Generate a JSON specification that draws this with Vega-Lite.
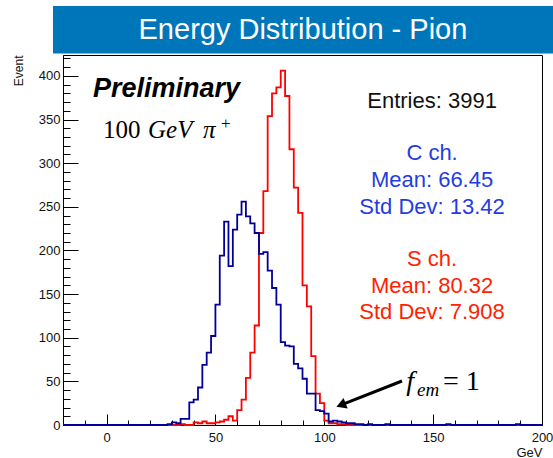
{
  "$schema": "https://vega.github.io/schema/vega-lite/v6.json",
  "width": 479,
  "height": 370,
  "autosize": {"type": "none"},
  "padding": {"left": 63, "top": 55, "right": 11, "bottom": 33},
  "background": "white",
  "config": {
    "view": {"stroke": "black", "strokeWidth": 1},
    "axis": {
      "labelFont": "Liberation Sans",
      "titleFont": "Liberation Sans",
      "labelColor": "#111111",
      "titleColor": "#111111",
      "domainColor": "black",
      "tickColor": "black",
      "grid": false
    }
  },
  "datasets": {
    "hist": [
      {"E": -20, "C": 0, "S": 0}, {"E": -18, "C": 0, "S": 0}, {"E": -16, "C": 0, "S": 0}, {"E": -14, "C": 0, "S": 0},
      {"E": -12, "C": 0, "S": 0}, {"E": -10, "C": 0, "S": 0}, {"E": -8, "C": 0, "S": 0}, {"E": -6, "C": 0, "S": 0},
      {"E": -4, "C": 0, "S": 0}, {"E": -2, "C": 0, "S": 0}, {"E": 0, "C": 0, "S": 0}, {"E": 2, "C": 0, "S": 0},
      {"E": 4, "C": 0, "S": 0}, {"E": 6, "C": 0, "S": 0}, {"E": 8, "C": 0, "S": 0}, {"E": 10, "C": 0, "S": 0},
      {"E": 12, "C": 0, "S": 0}, {"E": 14, "C": 0, "S": 0}, {"E": 16, "C": 0, "S": 0}, {"E": 18, "C": 0, "S": 0},
      {"E": 20, "C": 0, "S": 0}, {"E": 22, "C": 0, "S": 0}, {"E": 24, "C": 0, "S": 0}, {"E": 26, "C": 0, "S": 0},
      {"E": 28, "C": 1, "S": 0}, {"E": 30, "C": 3, "S": 0}, {"E": 32, "C": 2, "S": 0}, {"E": 34, "C": 7, "S": 1},
      {"E": 36, "C": 7, "S": 0}, {"E": 38, "C": 26, "S": 0}, {"E": 40, "C": 29, "S": 3}, {"E": 42, "C": 43, "S": 2},
      {"E": 44, "C": 69, "S": 4}, {"E": 46, "C": 83, "S": 2}, {"E": 48, "C": 102, "S": 2}, {"E": 50, "C": 138, "S": 3},
      {"E": 52, "C": 194, "S": 4}, {"E": 54, "C": 233, "S": 6}, {"E": 56, "C": 182, "S": 10}, {"E": 58, "C": 224, "S": 5},
      {"E": 60, "C": 241, "S": 17}, {"E": 62, "C": 256, "S": 29}, {"E": 64, "C": 239, "S": 54}, {"E": 66, "C": 231, "S": 83},
      {"E": 68, "C": 220, "S": 114}, {"E": 70, "C": 196, "S": 220}, {"E": 72, "C": 198, "S": 268}, {"E": 74, "C": 177, "S": 354},
      {"E": 76, "C": 157, "S": 380}, {"E": 78, "C": 138, "S": 387}, {"E": 80, "C": 95, "S": 406}, {"E": 82, "C": 91, "S": 377},
      {"E": 84, "C": 90, "S": 316}, {"E": 86, "C": 70, "S": 272}, {"E": 88, "C": 65, "S": 243}, {"E": 90, "C": 53, "S": 160},
      {"E": 92, "C": 36, "S": 136}, {"E": 94, "C": 36, "S": 79}, {"E": 96, "C": 17, "S": 36}, {"E": 98, "C": 16, "S": 25},
      {"E": 100, "C": 13, "S": 5}, {"E": 102, "C": 4, "S": 2}, {"E": 104, "C": 5, "S": 2}, {"E": 106, "C": 4, "S": 1},
      {"E": 108, "C": 3, "S": 1}, {"E": 110, "C": 2, "S": 0}, {"E": 112, "C": 2, "S": 0}, {"E": 114, "C": 1, "S": 0},
      {"E": 116, "C": 1, "S": 0}, {"E": 118, "C": 0, "S": 0}, {"E": 120, "C": 1, "S": 0}, {"E": 122, "C": 0, "S": 0},
      {"E": 124, "C": 0, "S": 0}, {"E": 126, "C": 0, "S": 0}, {"E": 128, "C": 1, "S": 0}, {"E": 130, "C": 0, "S": 0},
      {"E": 132, "C": 0, "S": 0}, {"E": 134, "C": 0, "S": 0}, {"E": 136, "C": 0, "S": 0}, {"E": 138, "C": 0, "S": 0},
      {"E": 140, "C": 0, "S": 0}, {"E": 142, "C": 0, "S": 0}, {"E": 144, "C": 0, "S": 0}, {"E": 146, "C": 0, "S": 0},
      {"E": 148, "C": 0, "S": 0}, {"E": 150, "C": 0, "S": 0}, {"E": 152, "C": 0, "S": 0}, {"E": 154, "C": 0, "S": 0},
      {"E": 156, "C": 1, "S": 0}, {"E": 158, "C": 0, "S": 0}, {"E": 160, "C": 0, "S": 0}, {"E": 162, "C": 0, "S": 0},
      {"E": 164, "C": 0, "S": 0}, {"E": 166, "C": 0, "S": 0}, {"E": 168, "C": 0, "S": 0}, {"E": 170, "C": 0, "S": 0},
      {"E": 172, "C": 0, "S": 0}, {"E": 174, "C": 0, "S": 0}, {"E": 176, "C": 0, "S": 0}, {"E": 178, "C": 0, "S": 0},
      {"E": 180, "C": 0, "S": 0}, {"E": 182, "C": 0, "S": 0}, {"E": 184, "C": 0, "S": 0}, {"E": 186, "C": 0, "S": 0},
      {"E": 188, "C": 1, "S": 0}, {"E": 190, "C": 0, "S": 0}, {"E": 192, "C": 0, "S": 0}, {"E": 194, "C": 0, "S": 0},
      {"E": 196, "C": 0, "S": 0}, {"E": 198, "C": 0, "S": 0}, {"E": 200, "C": 0, "S": 0}
    ]
  },
  "resolve": {"axis": {"x": "independent", "y": "independent"}},
  "layer": [
    {
      "data": {"name": "hist"},
      "mark": {"type": "line", "interpolate": "step-after", "color": "#ff0000", "strokeWidth": 1.8},
      "encoding": {
        "x": {
          "field": "E", "type": "quantitative",
          "scale": {"domain": [-20, 200], "nice": false, "zero": false},
          "axis": {
            "orient": "bottom", "values": [0, 50, 100, 150, 200], "tickSize": -11, "tickWidth": 1,
            "labelPadding": 17, "labelFontSize": 13, "labelFlush": false, "labelOverlap": false,
            "title": "GeV", "titleFontSize": 13, "titleFontWeight": "normal", "titleAnchor": "end",
            "titleAlign": "right", "titleX": 479, "titleY": 27, "titleBaseline": "middle"
          }
        },
        "y": {
          "field": "S", "type": "quantitative",
          "scale": {"domain": [0, 424], "nice": false},
          "axis": {
            "orient": "left", "values": [0, 50, 100, 150, 200, 250, 300, 350, 400], "tickSize": -15, "tickWidth": 1,
            "labelPadding": 18, "labelFontSize": 13, "labelOverlap": false,
            "title": "Event", "titleFontSize": 12, "titleFontWeight": "normal", "titleAngle": -90,
            "titleAnchor": "end", "titleAlign": "right", "titleX": -45, "titleY": 0, "titleBaseline": "middle"
          }
        }
      }
    },
    {
      "data": {"name": "hist"},
      "mark": {"type": "line", "interpolate": "step-after", "color": "#000099", "strokeWidth": 1.8},
      "encoding": {
        "x": {
          "field": "E", "type": "quantitative",
          "axis": {
            "orient": "bottom", "values": [-10, 10, 20, 30, 40, 60, 70, 80, 90, 110, 120, 130, 140, 160, 170, 180, 190],
            "tickSize": -5, "labels": false, "domain": false, "title": null
          }
        },
        "y": {
          "field": "C", "type": "quantitative",
          "axis": {
            "orient": "left",
            "values": [10, 20, 30, 40, 60, 70, 80, 90, 110, 120, 130, 140, 160, 170, 180, 190, 210, 220, 230, 240, 260, 270, 280, 290, 310, 320, 330, 340, 360, 370, 380, 390, 410, 420],
            "tickSize": -7, "labels": false, "domain": false, "title": null
          }
        }
      }
    },
    {
      "data": {"values": [{"x": -24.6, "x2": 205.1, "y": 480.2, "y2": 425.8}]},
      "mark": {"type": "rect", "color": "#0076ba"},
      "encoding": {
        "x": {"field": "x", "type": "quantitative", "axis": null},
        "x2": {"field": "x2"},
        "y": {"field": "y", "type": "quantitative", "axis": null},
        "y2": {"field": "y2"}
      }
    },
    {
      "data": {"values": [{"x": 90.2, "y": 453.2, "t": "Energy Distribution - Pion"}]},
      "mark": {"type": "text", "font": "Liberation Sans", "fontSize": 29, "color": "white", "align": "center", "baseline": "middle"},
      "encoding": {
        "x": {"field": "x", "type": "quantitative", "axis": null},
        "y": {"field": "y", "type": "quantitative", "axis": null},
        "text": {"field": "t"}
      }
    },
    {
      "data": {"values": [{"x": 149.5, "y": 371.3, "t": "Entries: 3991"}]},
      "mark": {"type": "text", "font": "Liberation Sans", "fontSize": 22, "color": "#111111", "align": "center", "baseline": "middle"},
      "encoding": {
        "x": {"field": "x", "type": "quantitative", "axis": null},
        "y": {"field": "y", "type": "quantitative", "axis": null},
        "text": {"field": "t"}
      }
    },
    {
      "data": {"values": [
        {"x": 149.5, "y": 311.7, "t": "C ch."},
        {"x": 149.5, "y": 280.8, "t": "Mean: 66.45"},
        {"x": 149.5, "y": 249.8, "t": "Std Dev: 13.42"}
      ]},
      "mark": {"type": "text", "font": "Liberation Sans", "fontSize": 22, "color": "#1f3de0", "align": "center", "baseline": "middle"},
      "encoding": {
        "x": {"field": "x", "type": "quantitative", "axis": null},
        "y": {"field": "y", "type": "quantitative", "axis": null},
        "text": {"field": "t"}
      }
    },
    {
      "data": {"values": [
        {"x": 149.5, "y": 190.2, "t": "S ch."},
        {"x": 149.5, "y": 159.3, "t": "Mean: 80.32"},
        {"x": 149.5, "y": 129.5, "t": "Std Dev: 7.908"}
      ]},
      "mark": {"type": "text", "font": "Liberation Sans", "fontSize": 22, "color": "#ff2200", "align": "center", "baseline": "middle"},
      "encoding": {
        "x": {"field": "x", "type": "quantitative", "axis": null},
        "y": {"field": "y", "type": "quantitative", "axis": null},
        "text": {"field": "t"}
      }
    },
    {
      "data": {"values": [{"x": -6.2, "y": 375.5, "t": "Preliminary"}]},
      "mark": {"type": "text", "font": "Liberation Sans", "fontSize": 27, "fontWeight": "bold", "fontStyle": "italic", "color": "black", "align": "left", "baseline": "alphabetic"},
      "encoding": {
        "x": {"field": "x", "type": "quantitative", "axis": null},
        "y": {"field": "y", "type": "quantitative", "axis": null},
        "text": {"field": "t"}
      }
    },
    {
      "data": {"values": [{"x": -1.63, "y": 328.9, "t": "100"}]},
      "mark": {"type": "text", "font": "Liberation Serif", "fontSize": 25, "color": "black", "align": "left", "baseline": "alphabetic"},
      "encoding": {
        "x": {"field": "x", "type": "quantitative", "axis": null},
        "y": {"field": "y", "type": "quantitative", "axis": null},
        "text": {"field": "t"}
      }
    },
    {
      "data": {"values": [{"x": 19.05, "y": 328.9, "t": "GeV"}, {"x": 44.3, "y": 328.9, "t": "π"}]},
      "mark": {"type": "text", "font": "Liberation Serif", "fontSize": 25, "fontStyle": "italic", "color": "black", "align": "left", "baseline": "alphabetic"},
      "encoding": {
        "x": {"field": "x", "type": "quantitative", "axis": null},
        "y": {"field": "y", "type": "quantitative", "axis": null},
        "text": {"field": "t"}
      }
    },
    {
      "data": {"values": [{"x": 52.6, "y": 339.2, "t": "+"}]},
      "mark": {"type": "text", "font": "Liberation Serif", "fontSize": 17, "color": "black", "align": "left", "baseline": "alphabetic"},
      "encoding": {
        "x": {"field": "x", "type": "quantitative", "axis": null},
        "y": {"field": "y", "type": "quantitative", "axis": null},
        "text": {"field": "t"}
      }
    },
    {
      "data": {"values": [{"x": 137.6, "y": 40.1, "t": "f"}]},
      "mark": {"type": "text", "font": "Liberation Serif", "fontSize": 28, "fontStyle": "italic", "color": "black", "align": "left", "baseline": "alphabetic"},
      "encoding": {
        "x": {"field": "x", "type": "quantitative", "axis": null},
        "y": {"field": "y", "type": "quantitative", "axis": null},
        "text": {"field": "t"}
      }
    },
    {
      "data": {"values": [{"x": 142.6, "y": 33.2, "t": "em"}]},
      "mark": {"type": "text", "font": "Liberation Serif", "fontSize": 19, "fontStyle": "italic", "color": "black", "align": "left", "baseline": "alphabetic"},
      "encoding": {
        "x": {"field": "x", "type": "quantitative", "axis": null},
        "y": {"field": "y", "type": "quantitative", "axis": null},
        "text": {"field": "t"}
      }
    },
    {
      "data": {"values": [{"x": 154.5, "y": 40.1, "t": "= 1"}]},
      "mark": {"type": "text", "font": "Liberation Serif", "fontSize": 28, "color": "black", "align": "left", "baseline": "alphabetic"},
      "encoding": {
        "x": {"field": "x", "type": "quantitative", "axis": null},
        "y": {"field": "y", "type": "quantitative", "axis": null},
        "text": {"field": "t"}
      }
    },
    {
      "data": {"values": [{"x": 135.7, "y": 50.4, "x2": 108.4, "y2": 23.6}]},
      "mark": {"type": "rule", "color": "black", "strokeWidth": 3},
      "encoding": {
        "x": {"field": "x", "type": "quantitative", "axis": null},
        "y": {"field": "y", "type": "quantitative", "axis": null},
        "x2": {"field": "x2"},
        "y2": {"field": "y2"}
      }
    },
    {
      "data": {"values": [{"x": 108.4, "y": 23.6}]},
      "mark": {"type": "point", "shape": "triangle", "angle": 248.5, "size": 130, "filled": true, "color": "black", "opacity": 1},
      "encoding": {
        "x": {"field": "x", "type": "quantitative", "axis": null},
        "y": {"field": "y", "type": "quantitative", "axis": null}
      }
    }
  ]
}
